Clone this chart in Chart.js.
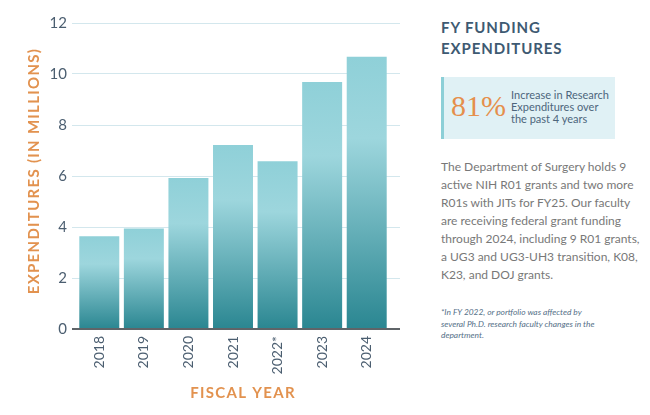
<!DOCTYPE html>
<html>
<head>
<meta charset="utf-8">
<script src="https://cdn.jsdelivr.net/npm/chart.js@4.4.1/dist/chart.umd.min.js"></script>
<style>
  html, body { margin: 0; padding: 0; background: #ffffff; }
  body { width: 650px; height: 415px; position: relative; overflow: hidden; font-family: Lato, "Open Sans", sans-serif; }
  #chartWrap { position: absolute; left: 0; top: 0; width: 410px; height: 415px; }
  #panel { position: absolute; left: 441px; top: 0; width: 174px; }
  #title { position: absolute; left: 0; top: 17px; width: 200px; font-weight: 700; font-size: 15px; line-height: 20.5px; letter-spacing: 0.9px; color: #3e5a72; }
  #box { position: absolute; left: 0; top: 77px; width: 171px; height: 62px; background: #e0f1f5; border-left: 3px solid #8ccfd7; }
  #pct { position: absolute; left: 7px; top: 11px; font-family: "Liberation Serif", serif; font-size: 30px; line-height: 36px; color: #e58f4c; }
  #pctText { position: absolute; left: 67px; top: 12px; width: 110px; font-size: 11px; line-height: 12px; color: #4d667c; white-space: nowrap; }
  #para { position: absolute; left: 0; top: 158px; width: 173px; font-size: 12px; line-height: 18px; color: #787878; }
  #para span { display: block; text-align: justify; text-align-last: justify; white-space: nowrap; }
  #para span.last { text-align-last: left; }
  #foot { position: absolute; left: 0; top: 307px; width: 180px; font-size: 8.4px; line-height: 11.5px; font-style: italic; color: #557088; }
</style>
</head>
<body>
<div id="chartWrap"><canvas id="c"></canvas></div>
<div id="panel">
  <div id="title">FY FUNDING<br>EXPENDITURES</div>
  <div id="box">
    <div id="pct">81%</div>
    <div id="pctText">Increase in Research<br>Expenditures over<br>the past 4 years</div>
  </div>
  <div id="para">
    <span>The Department of Surgery holds 9</span>
    <span>active NIH R01 grants and two more</span>
    <span>R01s with JITs for FY25. Our faculty</span>
    <span>are receiving federal grant funding</span>
    <span>through 2024, including 9 R01 grants,</span>
    <span>a UG3 and UG3-UH3 transition, K08,</span>
    <span class="last">K23, and DOJ grants.</span>
  </div>
  <div id="foot">*In FY 2022, or portfolio was affected by<br>several Ph.D. research faculty changes in the<br>department.</div>
</div>
<script>
const fiscalYears = ['2018', '2019', '2020', '2021', '2022*', '2023', '2024'];
const expenditures = [3.64, 3.94, 5.92, 7.22, 6.58, 9.69, 10.68];
const yTicks = [0, 2, 4, 6, 8, 10, 12];

function barFill(ctx) {
  const chart = ctx.chart;
  const ys = chart.scales.y;
  if (!chart.chartArea || !ys || ctx.raw === undefined) return '#5fb0ba';
  const top = ys.getPixelForValue(ctx.raw);
  const bottom = ys.getPixelForValue(0);
  if (!isFinite(top) || !isFinite(bottom) || top === bottom) return '#5fb0ba';
  const g = chart.ctx.createLinearGradient(0, top, 0, bottom);
  g.addColorStop(0, '#8fd0d8');
  g.addColorStop(0.3, '#9dd6dd');
  g.addColorStop(1, '#2a8691');
  return g;
}

const gridColor = (c) => (c.tick && c.tick.value === 0) ? '#5f6468' : '#d3e7ed';
const gridWidth = (c) => (c.tick && c.tick.value === 0) ? 2 : 1;

// letter-spaced axis titles (with a small nudge) like the printed design
function spacedTitle(dx, dy) {
  return (s) => {
    if (s._spacedTitle) return;
    const orig = s.drawTitle.bind(s);
    s.drawTitle = function () {
      const ctx = this.ctx;
      ctx.save();
      ctx.letterSpacing = '1.3px';
      ctx.translate(dx, dy);
      orig();
      ctx.restore();
    };
    s._spacedTitle = true;
  };
}

new Chart(document.getElementById('c'), {
  type: 'bar',
  data: {
    labels: fiscalYears,
    datasets: [{
      data: expenditures,
      backgroundColor: barFill,
      borderWidth: 0,
      categoryPercentage: 1,
      barPercentage: 0.897
    }]
  },
  options: {
    responsive: true,
    maintainAspectRatio: false,
    animation: false,
    layout: { padding: { top: 23, left: 0, right: 0, bottom: 0 } },
    plugins: { legend: { display: false }, tooltip: { enabled: false } },
    scales: {
      x: {
        grid: { display: false, drawTicks: false },
        border: { display: false },
        ticks: {
          minRotation: 90, maxRotation: 90, padding: 7,
          color: '#4b5e70',
          font: { family: 'Lato', size: 14 }
        },
        title: {
          display: true, text: 'FISCAL YEAR', color: '#e2924f',
          font: { family: 'Lato', size: 15, weight: 'bold' },
          padding: { top: 0, bottom: 13 }
        },
        afterFit: (s) => { s.height = 86; },
        afterUpdate: spacedTitle(10, 0)
      },
      y: {
        min: 0, max: 12,
        afterBuildTicks: (s) => { s.ticks = yTicks.map(v => ({ value: v })); },
        grid: { color: gridColor, lineWidth: gridWidth, tickColor: gridColor, tickLength: 5, drawTicks: true },
        border: { display: false },
        ticks: {
          padding: 5, color: '#4b5e70',
          font: { family: 'Lato', size: 15 }
        },
        title: {
          display: true, text: 'EXPENDITURES (IN MILLIONS)', color: '#e2924f',
          font: { family: 'Lato', size: 15, weight: 'bold' },
          padding: { top: 25, bottom: 0 }
        },
        afterFit: (s) => { s.width = 77; },
        afterUpdate: spacedTitle(0, -5)
      },
      y2: {
        position: 'right',
        min: 0, max: 12,
        afterBuildTicks: (s) => { s.ticks = yTicks.map(v => ({ value: v })); },
        grid: { drawOnChartArea: false, drawTicks: true, tickLength: 11, color: gridColor, tickColor: gridColor, lineWidth: gridWidth },
        border: { display: false },
        ticks: { display: false },
        afterFit: (s) => { s.width = 21; }
      }
    }
  }
});
</script>
</body>
</html>
